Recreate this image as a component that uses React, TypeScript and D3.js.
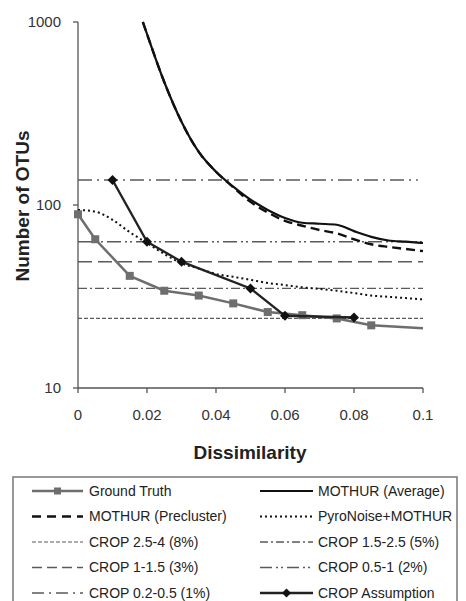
import React from "react";
import * as d3 from "d3";

// ground truth
const gtX = [0, 0.005, 0.015, 0.025, 0.035, 0.045, 0.055, 0.065, 0.075, 0.085, 0.1];
const gtY = [89, 65, 41, 34, 32, 29, 26, 25, 24, 22, 21.2];
const gtMarked = 10; // last point has no marker

// MOTHUR (Average) and (Precluster)
const mothurX = [0.0188, 0.02, 0.025, 0.03, 0.035, 0.04, 0.045, 0.05, 0.055, 0.06, 0.065, 0.07, 0.075, 0.08, 0.085, 0.09, 0.095, 0.1];
const mothurAvg = [1000, 860, 470, 285, 195, 152, 126, 107, 94, 85, 80, 79, 78, 72, 67, 64, 63, 62];
const mothurPre = [1000, 860, 470, 285, 195, 152, 125, 104, 91, 82, 77, 73, 70, 65, 61, 59, 57.5, 56];

// PyroNoise+MOTHUR
const pyroX = [0, 0.005, 0.01, 0.015, 0.02, 0.025, 0.03, 0.035, 0.04, 0.045, 0.05, 0.055, 0.06, 0.065, 0.07, 0.075, 0.08, 0.085, 0.09, 0.095, 0.1];
const pyroY = [94, 92, 83, 71, 62, 54, 48, 45, 42, 40.5, 39, 37.5, 36.5, 35.5, 34.8, 34, 33, 32, 31.5, 31, 30.5];

// CROP assumption
const cropAX = [0.01, 0.02, 0.03, 0.05, 0.06, 0.08];
const cropAY = [137, 63, 49, 35, 24.8, 24.3];

// CROP thresholds (constant lines)
const cropNames = ["CROP 2.5-4 (8%)", "CROP 1.5-2.5 (5%)", "CROP 1-1.5 (3%)", "CROP 0.5-1 (2%)", "CROP 0.2-0.5 (1%)"];
const cropValues = [24, 35, 49, 63, 137];
const cropEnd = [0.1, 0.1, 0.1, 0.1, 0.0985];

const xTicks = [0, 0.02, 0.04, 0.06, 0.08, 0.1];
const xTickLabels = ["0", "0.02", "0.04", "0.06", "0.08", "0.1"];
const yTicks = [10, 100, 1000];

const GRAY = "#6e6e6e";
const DARK = "#111";
const CROPC = "#5a5a5a";

const cropStyles = [
  { dash: "4,2", w: 1.1 },
  { dash: "9,3,2,3", w: 1.3 },
  { dash: "14,6", w: 1.6 },
  { dash: "14,4,2,3,2,4", w: 1.5 },
  { dash: "14,5,2,5", w: 1.5 },
];

export default function App() {
  const x = d3.scaleLinear().domain([0, 0.1]).range([78, 423]);
  const y = d3.scaleLog().domain([10, 1000]).range([388, 22]);
  const font = "Liberation Sans, Arial, sans-serif";

  const line = d3
    .line<[number, number]>()
    .x((d) => x(d[0]))
    .y((d) => y(d[1]));
  const smooth = d3
    .line<[number, number]>()
    .x((d) => x(d[0]))
    .y((d) => y(d[1]))
    .curve(d3.curveMonotoneX);

  const gt = gtX.map((v, i) => [v, gtY[i]] as [number, number]);
  const avg = mothurX.map((v, i) => [v, mothurAvg[i]] as [number, number]);
  const pre = mothurX.map((v, i) => [v, mothurPre[i]] as [number, number]);
  const pyro = pyroX.map((v, i) => [v, pyroY[i]] as [number, number]);
  const cropA = cropAX.map((v, i) => [v, cropAY[i]] as [number, number]);

  const diamond = (cx: number, cy: number, r: number) =>
    `M${cx},${cy - r}L${cx + r},${cy}L${cx},${cy + r}L${cx - r},${cy}Z`;

  // legend
  const lgTop = 491;
  const lgStep = 25.5;
  const col1 = [32, 83, 89];
  const col2 = [260, 313, 318];
  type Entry = { label: string; col: number[]; row: number; stroke: string; w: number; dash?: string; marker?: string };
  const entries: Entry[] = [
    { label: "Ground Truth", col: col1, row: 0, stroke: GRAY, w: 2.5, marker: "square" },
    { label: "MOTHUR (Average)", col: col2, row: 0, stroke: DARK, w: 2.2 },
    { label: "MOTHUR (Precluster)", col: col1, row: 1, stroke: DARK, w: 2.4, dash: "9,6" },
    { label: "PyroNoise+MOTHUR", col: col2, row: 1, stroke: DARK, w: 2, dash: "2,3" },
    { label: cropNames[0], col: col1, row: 2, stroke: CROPC, w: cropStyles[0].w, dash: cropStyles[0].dash },
    { label: cropNames[1], col: col2, row: 2, stroke: CROPC, w: cropStyles[1].w, dash: "8,3,2,3" },
    { label: cropNames[2], col: col1, row: 3, stroke: CROPC, w: cropStyles[2].w, dash: "10,5" },
    { label: cropNames[3], col: col2, row: 3, stroke: CROPC, w: cropStyles[3].w, dash: "12,4,2,3,2,4" },
    { label: cropNames[4], col: col1, row: 4, stroke: CROPC, w: cropStyles[4].w, dash: "12,5,2,5" },
    { label: "CROP Assumption", col: col2, row: 4, stroke: "#222", w: 2.4, marker: "diamond" },
  ];

  return (
    <svg
      width={466}
      height={601}
      style={{ position: "absolute", left: 0, top: 0, background: "#fff" }}
      fontFamily={font}
    >
      <rect width={466} height={601} fill="#fff" />

      {/* crop threshold lines */}
      {cropValues.map((v, i) => (
        <line
          key={"c" + i}
          x1={x(0)}
          x2={x(cropEnd[i])}
          y1={y(v)}
          y2={y(v)}
          stroke={CROPC}
          strokeWidth={cropStyles[i].w}
          strokeDasharray={cropStyles[i].dash}
        />
      ))}

      {/* axes */}
      <line x1={x(0)} x2={x(0)} y1={y(1000)} y2={y(10)} stroke="#555" strokeWidth={1.3} />
      <line x1={x(0)} x2={x(0.1)} y1={y(10)} y2={y(10)} stroke="#555" strokeWidth={1.3} />
      {yTicks.map((t) => (
        <g key={"yt" + t}>
          <line x1={x(0) - 5} x2={x(0)} y1={y(t)} y2={y(t)} stroke="#555" strokeWidth={1.3} />
          <text x={61} y={y(t)} dy="0.35em" textAnchor="end" fontSize={15} fill="#333">
            {t}
          </text>
        </g>
      ))}
      {xTicks.map((t, i) => (
        <g key={"xt" + i}>
          <line x1={x(t)} x2={x(t)} y1={y(10)} y2={y(10) + 5} stroke="#555" strokeWidth={1.3} />
          <text x={x(t)} y={415} dy="0.35em" textAnchor="middle" fontSize={15} fill="#333">
            {xTickLabels[i]}
          </text>
        </g>
      ))}
      <text x={250} y={452} dy="0.35em" textAnchor="middle" fontSize={19} fontWeight="bold" fill="#222">
        Dissimilarity
      </text>
      <text
        transform={`translate(22,206) rotate(-90)`}
        dy="0.35em"
        textAnchor="middle"
        fontSize={19}
        fontWeight="bold"
        fill="#222"
      >
        Number of OTUs
      </text>

      {/* series */}
      <path d={smooth(pyro) || ""} fill="none" stroke={DARK} strokeWidth={2} strokeDasharray="2,3" />
      <path d={smooth(pre) || ""} fill="none" stroke={DARK} strokeWidth={2.4} strokeDasharray="9,5" />
      <path d={smooth(avg) || ""} fill="none" stroke={DARK} strokeWidth={2.2} />
      <path d={line(gt) || ""} fill="none" stroke={GRAY} strokeWidth={2.5} />
      {gt.slice(0, gtMarked).map((d, i) => (
        <rect key={"gt" + i} x={x(d[0]) - 4} y={y(d[1]) - 4} width={8} height={8} fill={GRAY} />
      ))}
      <path d={line(cropA) || ""} fill="none" stroke="#222" strokeWidth={2.4} />
      {cropA.map((d, i) => (
        <path key={"ca" + i} d={diamond(x(d[0]), y(d[1]), 5)} fill="#111" />
      ))}

      {/* legend */}
      <rect x={13} y={477} width={444} height={140} fill="none" stroke="#777" strokeWidth={1.5} />
      {entries.map((e, i) => {
        const cy = lgTop + e.row * lgStep;
        const mid = (e.col[0] + e.col[1]) / 2;
        return (
          <g key={"lg" + i}>
            <line
              x1={e.col[0]}
              x2={e.col[1]}
              y1={cy}
              y2={cy}
              stroke={e.stroke}
              strokeWidth={e.w}
              strokeDasharray={e.dash}
            />
            {e.marker === "square" && <rect x={mid - 3.5} y={cy - 3.5} width={7} height={7} fill={GRAY} />}
            {e.marker === "diamond" && <path d={diamond(mid, cy, 4.5)} fill="#111" />}
            <text x={e.col[2]} y={cy} dy="0.35em" fontSize={14} fill="#222">
              {e.label}
            </text>
          </g>
        );
      })}
    </svg>
  );
}
